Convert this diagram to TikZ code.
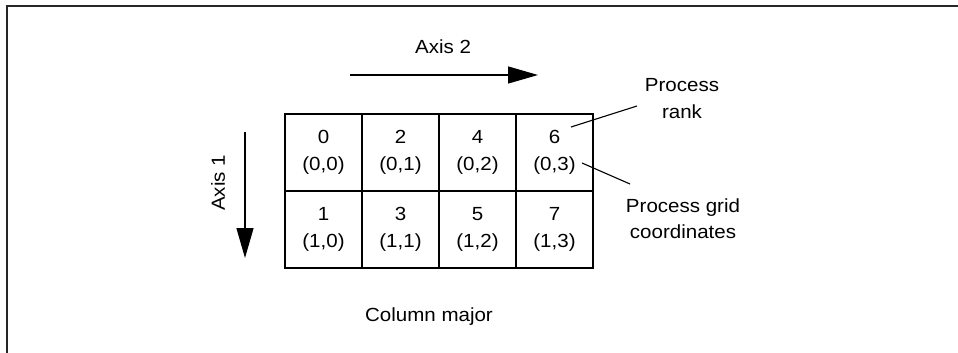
\documentclass[tikz,border=0pt]{standalone}
\usepackage{fontspec}
\setmainfont{Liberation Sans}[FakeStretch=1.08]
\usetikzlibrary{arrows.meta}
\tikzset{
  cell/.style={draw, line width=1.2pt, minimum width=77pt, minimum height=77pt, inner sep=0pt, align=center, font=\fontsize{19}{27}\selectfont},
  lbl/.style={align=center, inner sep=0pt, font=\fontsize{19}{26}\selectfont},
  axisarrow/.style={line width=1.3pt, -{Triangle[length=30pt,width=17pt]}},
  leader/.style={line width=1.1pt},
  frame/.style={line width=2pt, draw=black!85}
}
\begin{document}
\begin{tikzpicture}[x=1pt,y=-1pt]
\useasboundingbox (0,0) rectangle (958,353);
\draw[frame] (7,353) -- (7,6) -- (958,6);
% cells
\node[cell] (c00) at (323.5,152.5) {0\\(0,0)};
\node[cell] (c01) at (400.5,152.5) {2\\(0,1)};
\node[cell] (c02) at (477.5,152.5) {4\\(0,2)};
\node[cell] (c03) at (554.5,152.5) {6\\(0,3)};
\node[cell] (c10) at (323.5,229.5) {1\\(1,0)};
\node[cell] (c11) at (400.5,229.5) {3\\(1,1)};
\node[cell] (c12) at (477.5,229.5) {5\\(1,2)};
\node[cell] (c13) at (554.5,229.5) {7\\(1,3)};
% axes
\coordinate (a1s) at (245,132);
\coordinate (a1e) at (245,258);
\draw[axisarrow] (a1s) -- (a1e);
\node[lbl, rotate=90] (ax1) at (218,183) {Axis 1};
\coordinate (a2s) at (350,75);
\coordinate (a2e) at (538,75);
\draw[axisarrow] (a2s) -- (a2e);
\node[lbl, anchor=base] (ax2) at (443,53) {Axis 2};
% labels
\node[lbl, anchor=base] (rank1) at (682,92) {Process};
\node[lbl, anchor=base] (rank2) at (682,118) {rank};
\node[lbl, anchor=base] (pg1) at (683,212) {Process grid};
\node[lbl, anchor=base] (pg2) at (683,238) {coordinates};
\node[lbl, anchor=base] (cm) at (429,321) {Column major};
% leaders
\coordinate (rk) at (637,106);
\coordinate (rkc) at (571,127);
\draw[leader] (rk) -- (rkc);
\coordinate (gc) at (582,163);
\coordinate (gcl) at (630,184);
\draw[leader] (gc) -- (gcl);
\end{tikzpicture}
\end{document}
